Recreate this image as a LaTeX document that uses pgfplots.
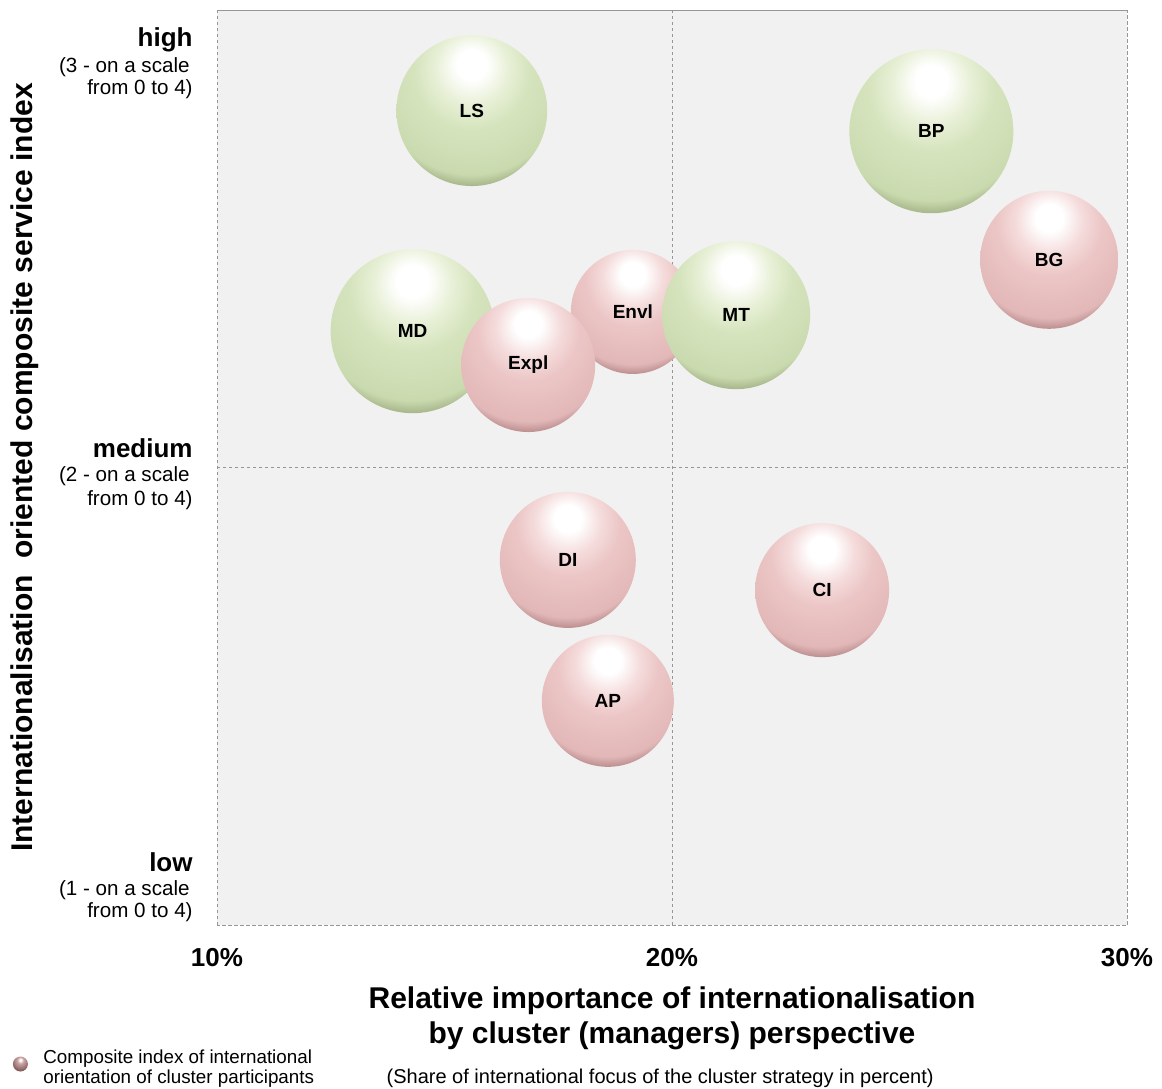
\documentclass[border=0pt]{standalone}
\usepackage{fontspec}
\setmainfont{Liberation Sans}
\usepackage{pgfplots}
\pgfplotsset{compat=1.18}
\usepackage{pgfplotstable}

\definecolor{gL}{RGB}{232,240,215}
\definecolor{gB}{RGB}{214,228,190}
\definecolor{gB2}{RGB}{202,218,175}
\definecolor{gD1}{RGB}{160,175,130}
\definecolor{gD2}{RGB}{115,125,90}
\definecolor{pL}{RGB}{245,220,220}
\definecolor{pB}{RGB}{236,198,198}
\definecolor{pB2}{RGB}{226,183,183}
\definecolor{pD1}{RGB}{180,135,135}
\definecolor{pD2}{RGB}{125,85,85}
\definecolor{lB}{RGB}{205,168,168}
\definecolor{lD}{RGB}{150,110,110}
\definecolor{lD2}{RGB}{105,72,72}
\definecolor{bgc}{RGB}{241,241,241}
\definecolor{gridc}{RGB}{150,150,150}

\pgfdeclareradialshading{greenball}{\pgfpoint{0bp}{16bp}}{color(0bp)=(white); color(5bp)=(white); color(12bp)=(gL); color(19bp)=(gB); color(32bp)=(gB2); color(36bp)=(gD1); color(39bp)=(gD2); color(40.3bp)=(gB); color(41bp)=(gL); color(100bp)=(gL)}
\pgfdeclareradialshading{pinkball}{\pgfpoint{0bp}{16bp}}{color(0bp)=(white); color(5bp)=(white); color(12bp)=(pL); color(19bp)=(pB); color(32bp)=(pB2); color(36bp)=(pD1); color(39bp)=(pD2); color(40.3bp)=(pB); color(41bp)=(pL); color(100bp)=(pL)}
\pgfdeclareradialshading{legball}{\pgfpoint{0bp}{14bp}}{color(0bp)=(white); color(3bp)=(white); color(10bp)=(lB); color(26bp)=(lD); color(37bp)=(lD2); color(39bp)=(lD); color(100bp)=(lD)}

% x = share (%), y = service index, d = bubble diameter (pt)
\pgfplotstableread{
x y d lab
15.6 2.78 75.4 LS
25.7 2.735 82 BP
}\greenA
\pgfplotstableread{
x y d lab
28.29 2.454 69 BG
}\pinkA
\pgfplotstableread{
x y d lab
14.3 2.298 82 MD
}\greenB
\pgfplotstableread{
x y d lab
19.14 2.34 62 Envl
16.84 2.224 67 Expl
}\pinkB
\pgfplotstableread{
x y d lab
21.41 2.333 74 MT
}\greenC
\pgfplotstableread{
x y d lab
17.71 1.798 68 DI
23.30 1.732 67 CI
18.59 1.490 66 AP
}\pinkC

\pgfplotsset{
  bubble/.style={draw=none, mark=none, forget plot,
    point meta=explicit symbolic,
    visualization depends on={\thisrow{d}\as\dia},
    nodes near coords,
    every node near coord/.append style={circle, shade, shading=#1, minimum size=\dia, inner sep=0pt, anchor=center, font=\fontsize{9.5}{11}\selectfont\bfseries, text=black}},
}

\begin{document}
\begin{tikzpicture}
\begin{axis}[
  at={(0,0)}, anchor=south west,
  width=455pt, height=457.5pt, scale only axis,
  clip=false,
  xmin=10, xmax=30, ymin=1, ymax=3,
  xtick={10,20,30}, xticklabels={10\%,20\%,30\%},
  ytick={1,2,3}, yticklabels={},
  grid=major,
  major grid style={gridc, dash pattern=on 1.5pt off 1.5pt, line width=0.4pt},
  axis line style={gridc, dash pattern=on 1.5pt off 1.5pt, line width=0.4pt},
  axis background/.style={fill=bgc},
  major tick length=0pt,
  xticklabel style={font=\fontsize{13}{15}\selectfont\bfseries, anchor=center, yshift=-16.5pt},
  xlabel={Relative importance of internationalisation\\by cluster (managers) perspective},
  xlabel style={font=\fontsize{15}{17.5}\selectfont\bfseries, align=center, at={(axis description cs:0.5,-0.1016)}, anchor=center},
  ylabel={Internationalisation\ \ oriented composite service index},
  ylabel style={font=\fontsize{15}{17.5}\selectfont\bfseries, at={(axis description cs:-0.211,0.5)}, anchor=center},
  legend style={at={(axis description cs:-0.2247,-0.1563)}, anchor=west, draw=none, fill=none,
    font=\fontsize{9.4}{10}\selectfont, cells={align=left, anchor=west}, inner sep=0pt},
  legend cell align=left,
]
\addplot[bubble=greenball] table[x=x,y=y,meta=lab] {\greenA};
\addplot[bubble=pinkball] table[x=x,y=y,meta=lab] {\pinkA};
\addplot[bubble=greenball] table[x=x,y=y,meta=lab] {\greenB};
\addplot[bubble=pinkball] table[x=x,y=y,meta=lab] {\pinkB};
\addplot[bubble=greenball] table[x=x,y=y,meta=lab] {\greenC};
\addplot[bubble=pinkball] table[x=x,y=y,meta=lab] {\pinkC};

\addlegendimage{legend image code/.code={\shade[shading=legball, draw=none] (3.75pt,2pt) circle (3.75pt); \path[draw=none, fill=none] (0pt,0pt) rectangle (13.25pt,0.1pt);}}
\addlegendentry{Composite index of international\\orientation of cluster participants}

% y-axis level labels
\tikzset{lvb/.style={anchor=base east, inner sep=0pt, font=\fontsize{13}{15}\selectfont\bfseries},
         lvs/.style={anchor=base east, inner sep=0pt, font=\fontsize{10.3}{12}\selectfont}}
\node[lvb] at (axis description cs:0,1) [xshift=-12pt, yshift=-18.5pt] {high};
\node[lvs] at (axis description cs:0,1) [xshift=-13.5pt, yshift=-31.3pt] {(3 - on a scale};
\node[lvs] at (axis description cs:0,1) [xshift=-12pt, yshift=-42.2pt] {from 0 to 4)};
\node[lvb] at (axis description cs:0,0.5) [xshift=-12pt, yshift=5.25pt] {medium};
\node[lvs] at (axis description cs:0,0.5) [xshift=-13.5pt, yshift=-7pt] {(2 - on a scale};
\node[lvs] at (axis description cs:0,0.5) [xshift=-12pt, yshift=-19pt] {from 0 to 4)};
\node[lvb] at (axis description cs:0,0) [xshift=-12pt, yshift=27pt] {low};
\node[lvs] at (axis description cs:0,0) [xshift=-13.5pt, yshift=15pt] {(1 - on a scale};
\node[lvs] at (axis description cs:0,0) [xshift=-12pt, yshift=3.85pt] {from 0 to 4)};
\node[font=\fontsize{10}{12}\selectfont] at (axis description cs:0.487,-0.1672) {(Share of international focus of the cluster strategy in percent)};
\end{axis}
\pgfresetboundingbox
\path (-108.5pt,-81.5pt) rectangle (472.5pt,462.5pt);
\end{tikzpicture}
\end{document}
